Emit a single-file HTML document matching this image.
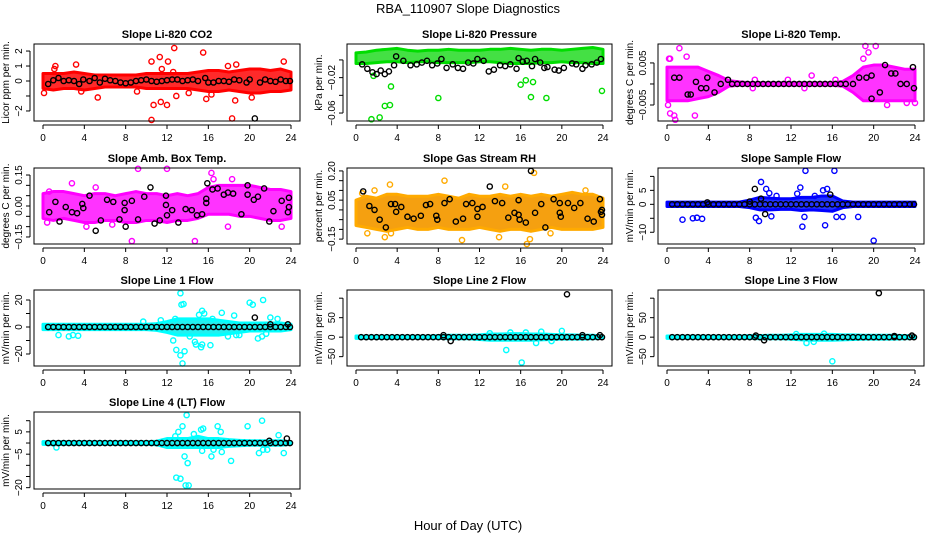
<!DOCTYPE html>
<html><head><meta charset="utf-8"><style>
html,body{margin:0;padding:0;background:#fff}
svg{display:block;font-family:"Liberation Sans",sans-serif}
</style></head><body>
<svg id="chart" width="936" height="540" viewBox="0 0 936 540">
<text x="468" y="13" text-anchor="middle" font-size="13">RBA_110907  Slope Diagnostics</text>
<text x="468" y="530" text-anchor="middle" font-size="13">Hour of Day (UTC)</text>
</svg>
<script>
const xTicks=[0,4,8,12,16,20,24];
const hours=[0,1,2,3,4,5,6,7,8,9,10,11,12,13,14,15,16,17,18,19,20,21,22,23,24];
const flatHours=[0.5,1,1.5,2,2.5,3,3.5,4,4.5,5,5.5,6,6.5,7,7.5,8,8.5,9,9.5,10,10.5,11,11.5,12,12.5,13,13.5,14,14.5,15,15.5,16,16.5,17,17.5,18,18.5,19,19.5,20,20.5,21,21.5,22,22.5,23,23.5,23.9];

// CO2
const co2Lo=[-0.5,-0.6,-0.5,-0.5,-0.6,-0.5,-0.4,-0.4,-0.4,-0.4,-0.5,-0.5,-0.5,-0.5,-0.5,-0.6,-0.7,-0.7,-0.6,-0.7,-0.8,-0.8,-0.7,-0.7,-0.6];
const co2Hi=[0.5,0.5,0.5,0.6,0.5,0.4,0.4,0.4,0.4,0.4,0.5,0.5,0.5,0.5,0.5,0.6,0.7,0.7,0.6,0.7,0.8,0.8,0.7,0.8,0.6];
const co2Out=[[10.5,-2.6],[12.7,2.2],[15.5,1.9],[10.5,1.3],[11.3,1.6],[12.1,1.3],[18.3,-2.5],[10.7,-1.6],[12,-1.6],[11.4,-1.4],[12.9,-1],[3.2,1.1],[5.3,-1.1],[23.3,1.3],[0.1,-0.8],[3.7,-0.7],[15.8,-1.2],[18.6,-1.3],[17.9,1],[18.7,1.1],[9.1,-0.7],[16.3,-0.9],[20.2,-1.1],[1.1,0.8],[1.2,1],[14.1,-0.8],[11.5,0.8],[12.6,0.6]];
const co2Black=[[0.5,-0.2],[1,0.05],[1.5,0.2],[2,0],[2.5,0.05],[3,0],[3.5,-0.2],[3.9,0.1],[4.5,0],[5,0.2],[5.5,-0.1],[6,0.15],[6.5,0.05],[7,0],[7.5,-0.1],[8,-0.15],[8.5,-0.1],[9,0],[9.5,0.05],[10,0.1],[10.5,0],[11,-0.05],[11.5,0],[12,0.05],[12.5,0.1],[13,0.1],[13.5,0],[14,0.05],[14.5,0.1],[15,0],[15.7,0.2],[16,-0.1],[16.5,-0.1],[17,0],[17.5,0],[18,-0.05],[18.5,0.1],[19,0.05],[19.7,-0.1],[20,0.1],[20.5,-2.5],[21,-0.1],[21.5,0.1],[22,0],[22.5,-0.05],[23,0.1],[23.5,0],[23.9,0]];
// Pressure
const prLo=[-0.004,-0.004,-0.003,-0.002,-0.002,-0.003,-0.002,-0.002,-0.003,-0.003,-0.003,-0.003,-0.002,-0.002,-0.003,-0.004,-0.004,-0.004,-0.003,-0.003,-0.002,-0.003,-0.003,-0.004,-0.004];
const prHi=[0.008,0.009,0.011,0.012,0.013,0.011,0.01,0.011,0.011,0.012,0.011,0.011,0.011,0.012,0.012,0.013,0.012,0.011,0.012,0.012,0.011,0.012,0.013,0.014,0.012];
const prOut=[[1.5,-0.067],[2.3,-0.065],[2.8,-0.052],[3.3,-0.051],[3.4,-0.03],[8,-0.043],[1.7,-0.018],[16,-0.028],[16.5,-0.023],[17.2,-0.025],[17,-0.042],[18.5,-0.043],[23.9,-0.035]];
const prBlack=[[0.6,-0.005],[1.1,-0.01],[1.6,-0.014],[2,-0.016],[2.4,-0.012],[2.8,-0.016],[3.2,-0.013],[3.7,-0.006],[3.9,0.004],[4.6,-0.001],[5.3,-0.006],[5.9,-0.005],[6.4,-0.003],[6.9,-0.001],[7.4,-0.006],[7.9,-0.004],[8.3,0.001],[8.8,-0.009],[9.4,-0.005],[9.9,-0.009],[10.4,-0.01],[10.9,-0.003],[11.4,-0.004],[11.8,0.001],[12.4,-0.001],[12.9,-0.013],[13.4,-0.011],[14,-0.006],[14.5,-0.007],[15,-0.005],[15.6,-0.01],[15.8,0.002],[16.2,-0.002],[16.6,-0.001],[17.1,-0.007],[17.4,0.001],[17.9,-0.003],[18.3,-0.009],[18.6,-0.008],[19.3,-0.011],[19.7,-0.012],[20.2,-0.009],[21,-0.004],[21.4,-0.005],[22,-0.01],[22.3,-0.006],[22.9,-0.005],[23.4,-0.003],[23.8,0.001]];
// Li-820 temp
const ltLo=[-0.004,-0.004,-0.004,-0.0035,-0.003,-0.002,-0.0005,-0.0003,-0.0003,-0.0003,-0.0003,-0.0003,-0.0003,-0.0003,-0.0003,-0.0003,-0.0003,-0.0005,-0.002,-0.004,-0.004,-0.004,-0.004,-0.004,-0.004];
const ltHi=[0.004,0.004,0.004,0.004,0.003,0.002,0.0008,0.0005,0.0003,0.0003,0.0003,0.0003,0.0003,0.0003,0.0003,0.0003,0.0003,0.0006,0.002,0.004,0.0045,0.0045,0.004,0.0035,0.0035];
const ltOut=[[0.1,-0.005],[0.3,-0.007],[0.7,-0.0075],[0.8,-0.0085],[1.2,0.0085],[0.2,0.006],[0.3,0.006],[1.9,0.0065],[2.7,-0.0075],[8.3,-0.001],[13.3,-0.001],[14,0.002],[19.2,0.009],[19.5,0.0075],[20.2,0.009],[19,0.006],[21.3,-0.005],[23.2,-0.0045],[24,-0.0045],[8.5,0.001],[11.7,0.001],[16.3,0.001]];
const ltBlack=[[0.7,0.0015],[1.2,0.0015],[2,-0.0025],[2.3,-0.0025],[2.8,0.0005],[3.3,-0.001],[3.8,-0.001],[3.9,0.0015],[4.6,-0.002],[5.2,0],[5.9,0.001],[6.3,0],[6.8,0],[7.3,0],[7.8,0],[8.3,0],[8.8,0],[9.3,0],[9.8,0],[10.3,0],[10.8,0],[11.3,0],[11.8,0],[12.3,0],[12.8,0],[13.3,0],[13.8,0],[14.3,0],[14.8,0],[15.3,0],[15.8,0],[16.3,0],[16.8,0],[17.3,0],[18,0],[18.6,0.0015],[19.3,0.0015],[19.8,-0.0035],[19.8,0.002],[20.6,-0.002],[21.1,0.0045],[21.7,0.0025],[22.1,0.0025],[22.6,0],[23.2,0],[23.8,0.004],[23.9,-0.001]];
// Amb box temp
const abLo=[-0.06,-0.07,-0.06,-0.07,-0.08,-0.08,-0.07,-0.07,-0.08,-0.08,-0.07,-0.07,-0.08,-0.07,-0.07,-0.06,-0.04,-0.04,-0.04,-0.05,-0.05,-0.06,-0.07,-0.07,-0.06];
const abHi=[0.06,0.07,0.07,0.06,0.05,0.06,0.06,0.05,0.06,0.07,0.06,0.06,0.05,0.06,0.05,0.06,0.09,0.1,0.1,0.1,0.1,0.09,0.08,0.08,0.07];
const abOut=[[9.2,0.18],[12,0.18],[16.3,0.16],[2.8,0.11],[8.6,-0.17],[14.7,-0.17],[0.4,-0.08],[0.6,0.07],[4.2,-0.1],[6.7,-0.09],[17.9,-0.1],[23.1,-0.1],[5.1,0.09],[16.5,0.13],[18.3,0.13]];
const abBlack=[[0.6,-0.03],[1.2,0.02],[1.6,-0.075],[2.2,-0.005],[2.8,-0.03],[3.3,-0.035],[3.8,0.01],[3.9,-0.01],[4.5,0.05],[5.1,-0.12],[5.6,-0.07],[6.2,0.03],[6.8,0.02],[7.4,-0.065],[7.9,0.015],[7.9,-0.02],[8,-0.1],[8.6,0.025],[9.2,-0.065],[9.8,0.045],[10.4,0.09],[10.8,-0.085],[11.3,-0.07],[11.9,0.05],[11.9,0.005],[12,-0.045],[12.5,-0.02],[13.1,-0.08],[13.8,-0.015],[14.4,-0.02],[14.9,-0.045],[15.4,-0.04],[15.8,0.035],[15.8,0.015],[15.9,0.11],[16.4,0.08],[16.9,0.085],[17.5,0.055],[17.9,0.065],[18.4,0.06],[19.2,-0.04],[19.8,0.055],[19.8,0.1],[20.4,0.03],[20.8,0.045],[21.4,0.085],[21.9,-0.075],[22.3,-0.025],[23.1,0.025],[23.8,0.04],[23.8,-0.005],[23.7,-0.03]];
// Gas stream RH
const rhLo=[-0.08,-0.09,-0.1,-0.11,-0.1,-0.09,-0.1,-0.1,-0.09,-0.1,-0.1,-0.1,-0.09,-0.1,-0.11,-0.1,-0.1,-0.11,-0.1,-0.09,-0.1,-0.1,-0.1,-0.1,-0.09];
const rhHi=[0.05,0.07,0.06,0.08,0.08,0.07,0.07,0.07,0.08,0.07,0.06,0.08,0.07,0.07,0.08,0.07,0.08,0.07,0.08,0.07,0.08,0.09,0.08,0.08,0.06];
const rhOut=[[0.6,0.085],[1.1,-0.12],[1.8,0.1],[2.8,-0.14],[3.3,0.13],[3.4,-0.12],[8.6,0.15],[10.3,-0.155],[17.3,0.19],[13.9,-0.14],[16.6,-0.175],[16.9,-0.15],[14.5,0.12],[18.9,-0.12],[22.3,0.1]];
const rhBlack=[[0.7,0.095],[1.3,0.02],[1.8,0],[2.3,-0.05],[2.9,-0.09],[3.4,0.03],[3.8,0.03],[3.9,-0.01],[4.4,0.015],[5,-0.035],[5.6,-0.045],[6.3,-0.03],[6.8,0.025],[7.2,0.03],[7.8,-0.03],[7.9,-0.05],[8.6,0.035],[9.1,0.055],[9.7,-0.06],[10.4,-0.045],[10.7,0.03],[11.3,0.035],[11.8,0.005],[11.8,-0.035],[12.3,0.015],[13,0.12],[13.5,0.045],[14.2,0.035],[14.8,-0.04],[15.4,-0.015],[15.8,0.05],[15.8,-0.025],[15.9,-0.05],[16.5,-0.065],[17,0.2],[17.4,-0.015],[18,0.03],[18.4,-0.09],[19.2,0.055],[19.8,0.035],[19.8,-0.015],[19.9,-0.035],[20.6,0.035],[21.2,0.01],[21.8,0.035],[22.5,-0.045],[23.1,-0.06],[23.7,0.055],[23.8,-0.01],[23.9,-0.025],[23.9,0]];
// Sample flow
const sfLo=[-0.8,-0.8,-0.8,-0.8,-0.8,-0.8,-0.8,-0.8,-1.2,-2,-2,-1.8,-1.8,-2.2,-2,-2.2,-2.5,-1.2,-0.8,-0.8,-0.8,-0.8,-0.8,-0.8,-0.8];
const sfHi=[0.8,0.8,0.8,0.8,0.8,0.8,0.8,0.8,1.5,2.5,2.2,2,2,2.5,2.5,3,3,1.2,0.8,0.8,0.8,0.8,0.8,0.8,0.8];
const sfOut=[[1.5,-5.5],[2.5,-5],[2.9,-4.8],[3.4,-5.2],[8.6,-4.8],[8.9,-6],[9.1,8],[9.6,5.5],[9.9,4],[10.1,-4.3],[10.6,3],[12.6,3.8],[12.9,6],[13.1,-8],[13.3,-4.5],[13.4,12],[14.3,3],[15.1,5],[15.3,-7.5],[15.5,5.5],[16.2,12],[16.4,-4.5],[17,-4.5],[18.5,-4.5],[20,-13]];
const sfExtra=[[8.5,5.5],[9.5,-3.5],[9.1,2],[15.8,3.5],[3.9,0.7],[8,1]];
// Line 1 flow
const l1Lo=[-2,-2,-2,-2,-2,-2,-2,-2,-2,-2,-2,-2.5,-4,-6,-6,-6,-6,-6,-5,-4,-3,-3,-3,-3,-2];
const l1Hi=[2,2,2,2,2,2,2,2,2,2,2,2.5,4,6,6,6,6,5,4,3,3,3,3,3,2];
const l1Out=[[13.3,25],[13.6,17],[13.4,16.5],[12.6,-10],[12.9,-17],[13.3,-21],[13.5,-27],[13.7,-18],[14.2,-7],[14.7,-11],[14.8,-13],[15.3,-15],[15.4,-13],[15.4,12],[15.1,9],[15.6,10],[16.2,-13.5],[16.4,6],[17.3,10.5],[17.9,-7],[18.5,8.5],[18.7,-6],[19,-6],[20,18],[20.3,16.5],[21.3,20],[20.8,-8.5],[21.2,-7],[21.6,-5],[22,7],[22.7,6],[1.5,-6],[2.5,-7],[2.9,-6],[3.4,-6.5],[9.7,4],[11.4,5],[12.8,6]];
const l1Extra=[[20.5,7],[22,2],[23.7,2]];
// Line 2 flow
const l2Lo=[-3,-3,-3,-3,-3,-3,-3,-3,-3,-4,-4,-4,-6,-8,-8,-8,-8,-8,-7,-6,-5,-5,-5,-4,-3];
const l2Hi=[3,3,3,3,3,3,3,3,4,5,5,5,6,8,8,9,9,8,8,7,6,6,5,5,3];
const l2Out=[[14.6,-33],[16.1,-65],[15,12],[17.5,-15],[18,14],[19,-10],[20,16],[13,10],[16.5,12]];
const l2Extra=[[8.5,5],[9.2,-10],[20.5,110],[22,5],[23.7,5]];
// Line 3 flow
const l3Lo=[-3,-3,-3,-3,-3,-3,-3,-3,-3,-4,-4,-4,-5,-7,-8,-8,-8,-7,-6,-5,-5,-5,-5,-4,-3];
const l3Hi=[3,3,3,3,3,3,3,3,4,4,5,5,6,7,7,7,7,6,6,5,5,5,5,4,3];
const l3Out=[[16,-62],[13.5,-15],[14.2,-12],[12.5,8],[15.2,9]];
const l3Extra=[[8.6,4],[9.4,-8],[20.5,113],[22,3],[23.7,4]];
// Line 4 flow
const l4Lo=[-0.6,-0.8,-0.6,-0.6,-0.6,-0.6,-0.6,-0.6,-0.6,-0.6,-0.6,-0.8,-2,-2,-2,-2,-2,-2,-1.5,-1.2,-1,-1,-1,-1,-0.6];
const l4Hi=[0.6,0.6,0.6,0.6,0.6,0.6,0.6,0.6,0.6,0.6,0.6,0.8,2,2,2,3,2,2,1.5,1.2,1,1,1,1,0.6];
const l4Out=[[13.9,12.5],[13.3,-16],[12.9,-15.5],[13.8,-19],[14.1,-19],[13.5,7.5],[13.1,5],[12.8,3],[13.7,-6],[14,-9],[15.3,6],[15.5,6.5],[16.3,-6],[16.9,7.5],[17.2,5],[18.2,-8],[19.8,7.5],[21.2,10],[20.9,-4.5],[21.3,-3],[21.7,-3],[22.8,3.5],[23.3,-4.5],[16.5,-3],[17.3,-4],[14.6,4],[15.4,-3.5],[1.3,-2]];
const l4Extra=[[23.6,2],[21.9,1]];

const NS='http://www.w3.org/2000/svg';
const svg=document.getElementById('chart');
function mk(tag,attrs,parent){const e=document.createElementNS(NS,tag);for(const k in attrs)e.setAttribute(k,attrs[k]);(parent||svg).appendChild(e);return e;}

function panel(key,title,ylab,L,T,R,B,ymin,ymax,ticks,labels,col,cloudFill,lo,hi,out,black){
  const g=mk('g',{});
  
  
  const xs=h=>L+9+(h/24)*(R-L-18);
  const ys=v=>B-(v-ymin)/(ymax-ymin)*(B-T);
  const t=mk('text',{x:(L+R)/2,y:T-6,'text-anchor':'middle','font-size':'11','font-weight':'bold'},g);
  t.textContent=title;
  
  
  // cloud
  let pts=hours.map((h,i)=>xs(h)+','+ys(hi[i]));
  pts=pts.concat(hours.slice().reverse().map((h,j)=>{const i=hours.length-1-j;return xs(h)+','+ys(lo[i]);}));
  const poly=mk('polygon',{points:pts.join(' '),fill:cloudFill,stroke:col,'stroke-width':'3','stroke-linejoin':'round'},g);
  
  
  out.forEach(p=>{const c=mk('circle',{cx:xs(p[0]),cy:ys(p[1]),r:2.6,fill:'none',stroke:col,'stroke-width':'1.4'},g);
    
    });
  black.forEach(p=>{const c=mk('circle',{cx:xs(p[0]),cy:ys(p[1]),r:2.6,fill:'none',stroke:'#000','stroke-width':'1.4'},g);
    
    });
  const box=mk('rect',{x:L,y:T,width:R-L,height:B-T,fill:'none',stroke:'#000','stroke-width':'1'},g);
  
  
  // x axis
  mk('line',{x1:xs(0),x2:xs(24),y1:B+4,y2:B+4,stroke:'#000'},g);
  xTicks.forEach(h=>{mk('line',{x1:xs(h),x2:xs(h),y1:B+4,y2:B+8,stroke:'#000'},g);
    const tl=mk('text',{x:xs(h),y:B+20,'text-anchor':'middle','font-size':'10'},g);tl.textContent=h;
    
    });
  // y axis
  mk('line',{x1:L-4,x2:L-4,y1:ys(ticks[0]),y2:ys(ticks[ticks.length-1]),stroke:'#000'},g);
  ticks.forEach((v,i)=>{const y=ys(v);mk('line',{x1:L-8,x2:L-4,y1:y,y2:y,stroke:'#000'},g);
    if(labels[i]!==''){const tl=mk('text',{x:L-12,y:y,'text-anchor':'middle','font-size':'10',transform:`rotate(-90 ${L-12} ${y})`},g);tl.textContent=labels[i];
      
      }});
  const yl=mk('text',{x:L-25,y:(T+B)/2,'text-anchor':'middle','font-size':'10',transform:`rotate(-90 ${L-25} ${(T+B)/2})`},g);
  yl.textContent=ylab;
  
  
}
const flat=(extra)=>flatHours.map(h=>[h,0]).concat(extra);
const C1=[34,300],C2=[347,612],C3=[658,924];
const R1=[44,121],R2=[168,244],R3=[290,366],R4=[412,489];
panel('co2','Slope Li-820 CO2','Licor ppm per min.',C1[0],R1[0],C1[1],R1[1],-2.67,2.47,[-2,-1,0,1,2],['−2','','0','1','2'],'#ff0000','#ff2a2a',co2Lo,co2Hi,co2Out,co2Black);
panel('pressure','Slope Li-820 Pressure','kPa per min.',C2[0],R1[0],C2[1],R1[1],-0.069,0.018,[-0.06,-0.04,-0.02,0],['−0.06','','−0.02',''],'#00dd00','#44e044',prLo,prHi,prOut,prBlack);
panel('li820-temp','Slope Li-820 Temp.','degrees C per min.',C3[0],R1[0],C3[1],R1[1],-0.0088,0.0095,[-0.005,0,0.005],['−0.005','','0.005'],'#ff00ff','#ff33ff',ltLo,ltHi,ltOut,ltBlack);
panel('amb-box-temp','Slope Amb. Box Temp.','degrees C per min.',C1[0],R2[0],C1[1],R2[1],-0.184,0.184,[-0.15,-0.1,-0.05,0,0.05,0.1,0.15],['−0.15','','','0.00','','','0.15'],'#ff00ff','#ff33ff',abLo,abHi,abOut,abBlack);
panel('gas-stream-rh','Slope Gas Stream RH','percent per min.',C2[0],R2[0],C2[1],R2[1],-0.175,0.215,[-0.15,-0.1,-0.05,0,0.05,0.1,0.15,0.2],['−0.15','','','','0.05','','','0.20'],'#ffaa00','#f5a010',rhLo,rhHi,rhOut,rhBlack);
panel('sample-flow','Slope Sample Flow','mV/min per min.',C3[0],R2[0],C3[1],R2[1],-14.2,13,[-10,-5,0,5,10],['−10','','0','5',''],'#0000ff','#2233ff',sfLo,sfHi,sfOut,flat(sfExtra));
panel('line1-flow','Slope Line 1 Flow','mV/min per min.',C1[0],R3[0],C1[1],R3[1],-28.9,27.4,[-20,-10,0,10,20],['−20','','0','','20'],'#00ffff','#22f0f0',l1Lo,l1Hi,l1Out,flat(l1Extra));
panel('line2-flow','Slope Line 2 Flow','mV/min per min.',C2[0],R3[0],C2[1],R3[1],-74,121,[-50,0,50,100],['−50','0','50',''],'#00ffff','#22f0f0',l2Lo,l2Hi,l2Out,flat(l2Extra));
panel('line3-flow','Slope Line 3 Flow','mV/min per min.',C3[0],R3[0],C3[1],R3[1],-74,121,[-50,0,50,100],['−50','0','50',''],'#00ffff','#22f0f0',l3Lo,l3Hi,l3Out,flat(l3Extra));
panel('line4-flow','Slope Line 4 (LT) Flow','mV/min per min.',C1[0],R4[0],C1[1],R4[1],-20.6,13.9,[-20,-15,-10,-5,0,5,10],['−20','','','−5','','5',''],'#00ffff','#22f0f0',l4Lo,l4Hi,l4Out,flat(l4Extra));
</script>
</body></html>
